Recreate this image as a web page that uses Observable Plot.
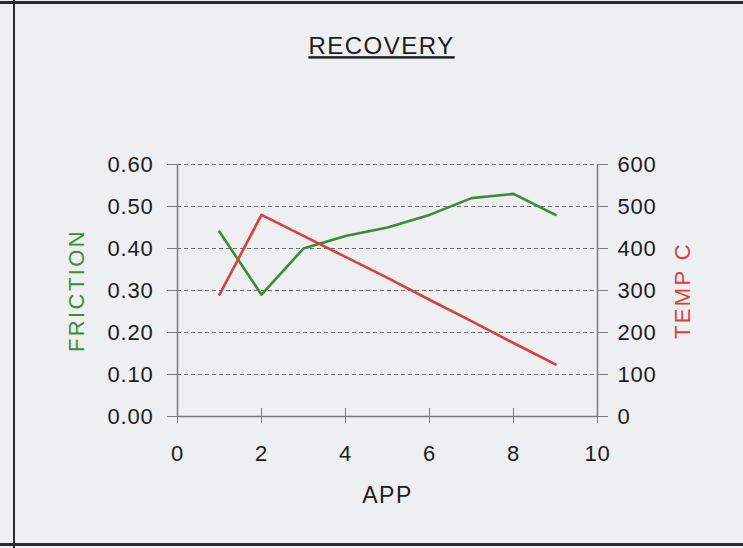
<!DOCTYPE html>
<html>
<head>
<meta charset="utf-8">
<script src="https://cdn.jsdelivr.net/npm/d3@7"></script>
<script src="https://cdn.jsdelivr.net/npm/@observablehq/plot@0.6"></script>
<style>
  html, body { margin: 0; padding: 0; background: #edeff1; }
  #wrap { position: relative; width: 743px; height: 548px; overflow: hidden; background: #edeff1; }
  .bline { position: absolute; background: #2a2a2a; }
</style>
</head>
<body>
<div id="wrap">
  <div class="bline" style="left:0;top:1px;width:743px;height:3px;"></div>
  <div class="bline" style="left:0;top:543px;width:743px;height:3px;"></div>
  <div class="bline" style="left:13px;top:0;width:2px;height:548px;"></div>
</div>
<script>
const app = [1, 2, 3, 4, 5, 6, 7, 8, 9];
const friction = [0.44, 0.29, 0.40, 0.43, 0.45, 0.48, 0.52, 0.53, 0.48];
const temp = [290, 480, 430, 380, 330, 278, 227, 175, 124];
const frictionTicks = [0, 0.1, 0.2, 0.3, 0.4, 0.5, 0.6];
const tempTicks = [0, 100, 200, 300, 400, 500, 600];
const appTicks = [0, 2, 4, 6, 8, 10];
const tempMax = 1000; // temp axis maps 0..600 onto friction 0..0.6

const green = "#3f8a3a";
const red = "#d8403f";

const fr = app.map((a, i) => ({app: a, v: friction[i]}));
const tp = app.map((a, i) => ({app: a, v: temp[i] / tempMax}));

const chart = Plot.plot({
  width: 743,
  height: 548,
  marginLeft: 177,
  marginRight: 146,
  marginTop: 164,
  marginBottom: 132,
  style: {background: "transparent", fontFamily: "'Liberation Sans', Arial, sans-serif", fontSize: "22px", color: "#1c1c1c"},
  x: {domain: [0, 10]},
  y: {domain: [0, 0.6]},
  marks: [
    Plot.gridY(frictionTicks.slice(1), {stroke: "#6f6f6f", strokeOpacity: 1, strokeWidth: 1, strokeDasharray: "4,3"}),
    Plot.ruleY([0], {stroke: "#7a7a7a", strokeWidth: 1.5}),
    Plot.ruleX([0, 10], {stroke: "#7a7a7a", strokeWidth: 1.5}),
    Plot.axisY({ticks: frictionTicks, tickFormat: d3.format(".2f"), tickSize: 10, tickPadding: 14, label: null, stroke: "#7a7a7a"}),
    Plot.axisY({anchor: "right", ticks: tempTicks.map(t => t / tempMax), tickFormat: d => String(Math.round(d * tempMax)), tickSize: 10, tickPadding: 10, label: null, stroke: "#7a7a7a"}),
    Plot.axisX({ticks: appTicks, tickSize: 7, tickPadding: 22, label: null, stroke: "#7a7a7a"}),
    Plot.axisX({ticks: appTicks, tickSize: 8, dy: -8, text: null, label: null, stroke: "#7a7a7a"}),
    Plot.line(fr, {x: "app", y: "v", stroke: green, strokeWidth: 2.6}),
    Plot.line(tp, {x: "app", y: "v", stroke: red, strokeWidth: 2.6}),
    Plot.text(["RECOVERY"], {frameAnchor: "top", lineAnchor: "middle", textAnchor: "middle", dx: -6, dy: -118, fontSize: 24, fill: "#1c1c1c"}),
    Plot.text(["APP"], {frameAnchor: "bottom", lineAnchor: "middle", textAnchor: "middle", dy: 79, fontSize: 23, fill: "#1c1c1c"}),
    Plot.text(["FRICTION"], {frameAnchor: "left", lineAnchor: "middle", textAnchor: "middle", dx: -101, rotate: -90, fontSize: 22, fill: green}),
    Plot.text(["TEMP C"], {frameAnchor: "right", lineAnchor: "middle", textAnchor: "middle", dx: 85, rotate: -90, fontSize: 22, fill: red})
  ]
});
chart.style.position = "absolute";
chart.style.left = "0";
chart.style.top = "0";
document.getElementById("wrap").appendChild(chart);

d3.select(chart).selectAll("text").each(function() {
  const t = this.textContent;
  const s = d3.select(this);
  if (t === "RECOVERY") s.style("text-decoration", "underline").style("letter-spacing", "1.5px");
  else if (t === "FRICTION" || t === "TEMP C") s.style("letter-spacing", "2.4px");
  else if (t === "APP") s.style("letter-spacing", "1.5px");
  else s.style("letter-spacing", "0.8px");
});
</script>
</body>
</html>
